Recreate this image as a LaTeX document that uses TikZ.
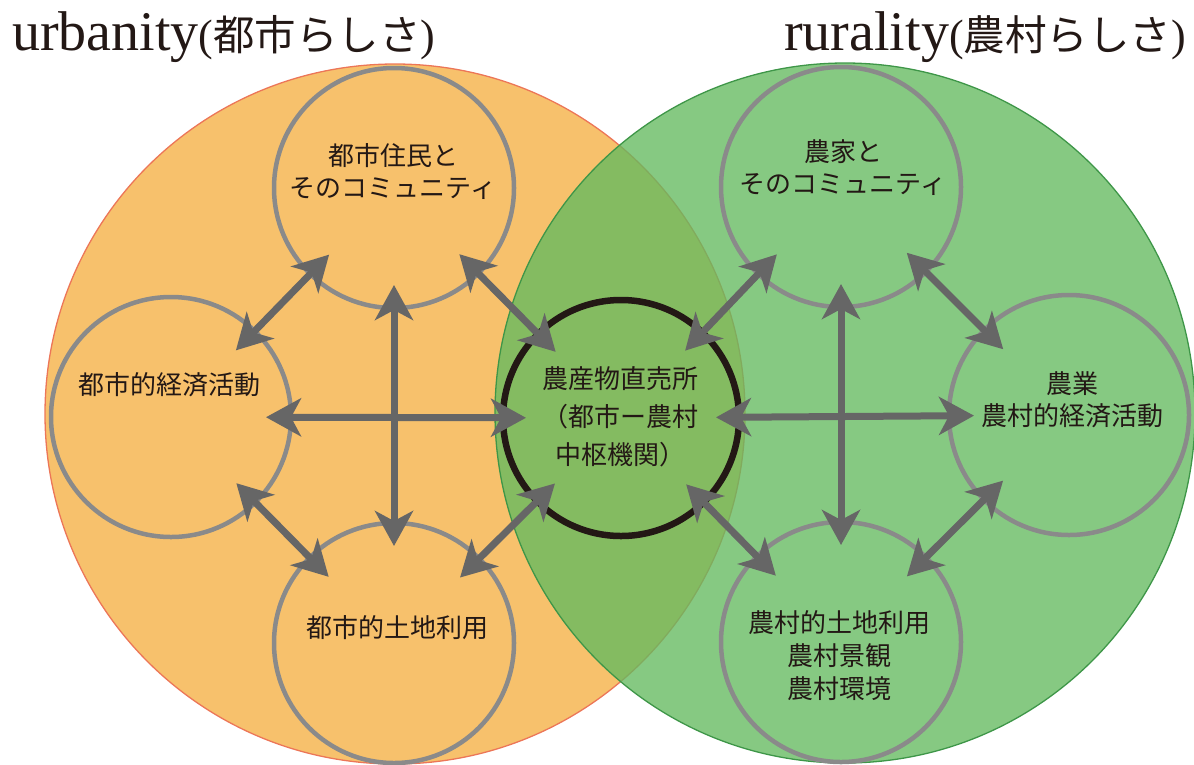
\documentclass[tikz,border=0pt]{standalone}
\usepackage{fontspec}
\setmainfont{Liberation Serif}
\newfontfamily\jp{Noto Sans CJK JP}
\usetikzlibrary{arrows.meta}
\definecolor{orfill}{RGB}{247,193,108}
\definecolor{oredge}{RGB}{236,118,88}
\definecolor{grfill}{RGB}{100,186,95}
\definecolor{gredge}{RGB}{62,150,72}
\definecolor{ringgray}{RGB}{138,138,138}
\definecolor{arrgray}{RGB}{102,102,102}
\definecolor{ink}{RGB}{35,24,21}
\tikzset{
  bigcirc/.style={circle, minimum size=700pt, inner sep=0pt, line width=1.3pt},
  smallring/.style={circle, draw=ringgray, line width=4.5pt, minimum size=240pt, inner sep=0pt},
  hubring/.style={circle, draw=ink, line width=6.5pt, minimum size=236pt, inner sep=0pt},
  lbl/.style={font=\jp\fontsize{26}{32}\selectfont, text=ink, align=center, inner sep=0pt},
  tip/.tip={Stealth[length=35pt, width=38pt, inset=10pt]},
  biarrow/.style={draw=arrgray, line width=7pt, tip-tip},
  diag/.style={biarrow, shorten <=93pt, shorten >=93pt},
  horiz/.style={biarrow, shorten <=95pt, shorten >=95pt},
  vert/.style={biarrow, shorten <=97pt, shorten >=97pt},
  ttl/.style={inner sep=0pt, text=ink}
}
\newcommand{\ttltext}[2]{\fontsize{56}{58}\selectfont #1\fontsize{44}{46}\selectfont(\jp\fontsize{41.5}{44}\selectfont #2\rmfamily\fontsize{44}{46}\selectfont)}
\begin{document}
\begin{tikzpicture}[x=1pt,y=-1pt]
\useasboundingbox (0,0) rectangle (1194,764);
\clip (0,0) rectangle (1194,764);
% big circles
\node[bigcirc, fill=orfill, draw=oredge] (urb) at (395,414) {};
\node[bigcirc, fill=grfill, fill opacity=0.78, draw=gredge] (rur) at (845,413) {};
% small circles
\node[smallring] (tl) at (394,188) {};
\node[smallring] (l)  at (171,417) {};
\node[smallring] (bl) at (394,643) {};
\node[smallring] (tr) at (841,187) {};
\node[smallring] (r)  at (1069,415) {};
\node[smallring] (br) at (841,642) {};
\node[hubring] (c) at (621,418) {};
% arrows left
\draw[diag] (tl.center) -- (l.center);
\draw[diag] (tl.center) -- (c.center);
\draw[diag] (l.center) -- (bl.center);
\draw[diag] (bl.center) -- (c.center);
\draw[horiz] (l.center) -- (c.center);
\draw[vert] (tl.center) -- (bl.center);
% arrows right
\draw[diag] (c.center) -- (tr.center);
\draw[diag] (tr.center) -- (r.center);
\draw[diag] (r.center) -- (br.center);
\draw[diag] (br.center) -- (c.center);
\draw[horiz] (c.center) -- (r.center);
\draw[vert] (tr.center) -- (br.center);
% labels
\node[lbl] (tlT) at (393,172) {都市住民と\\そのコミュニティ};
\node[lbl] (lT) at (169,385) {都市的経済活動};
\node[lbl] (blT) at (397,628) {都市的土地利用};
\node[lbl, font=\jp\fontsize{26}{38}\selectfont] (cT) at (620,417) {農産物直売所\\（都市ー農村\\中枢機関）};
\node[lbl] (trT) at (843,168) {農家と\\そのコミュニティ};
\node[lbl] (rT) at (1072,400) {農業\\農村的経済活動};
\node[lbl, font=\jp\fontsize{26}{33}\selectfont] (brT) at (839,656) {農村的土地利用\\農村景観\\農村環境};
% titles
\node[ttl, anchor=base west] (urbT) at (12,50) {\ttltext{urbanity}{都市らしさ}};
\node[ttl, anchor=base east] (rurT) at (1186,50) {\ttltext{rurality}{農村らしさ}};
\end{tikzpicture}
\end{document}
